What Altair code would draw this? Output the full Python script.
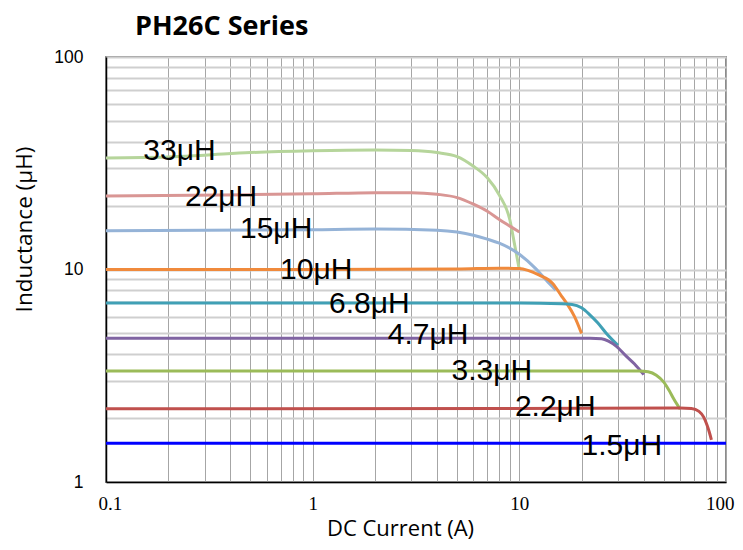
import altair as alt
import pandas as pd

# ---- data ----
series = ["33μH", "22μH", "15μH", "10μH", "6.8μH", "4.7μH", "3.3μH", "2.2μH", "1.5μH"]
colors = ["#b6d59b", "#d99694", "#95b3d7", "#f08a3c", "#40a0b5", "#8064a2", "#9bbb59", "#c0504d", "#0000ff"]

x_33 = [0.1, 0.2, 0.3, 0.5, 1, 2, 3, 4, 5, 6, 7, 8, 9, 9.5, 10]
y_33 = [33.5, 33.8, 34.5, 35.5, 36.2, 36.5, 36.3, 35.5, 34.0, 30.6, 27.0, 22.4, 17.1, 13.0, 10.0]

x_22 = [0.1, 0.5, 1, 2, 3, 4, 5, 6, 7, 8, 9, 10]
y_22 = [22.2, 22.5, 22.7, 23.0, 23.0, 22.6, 21.8, 20.3, 18.8, 17.2, 16.0, 15.0]

x_15 = [0.1, 1, 2, 4, 5, 6, 7, 8, 10, 12, 13.5, 15]
y_15 = [15.2, 15.4, 15.5, 15.3, 15.0, 14.5, 13.9, 13.3, 11.8, 10.1, 8.9, 8.0]

x_10 = [0.1, 1, 5, 8, 10, 11, 12.5, 14.5, 16, 17, 18.5, 20]
y_10 = [10.0, 10.0, 10.05, 10.15, 10.1, 9.9, 9.4, 8.6, 7.5, 6.9, 6.0, 5.0]

x_68 = [0.1, 1, 10, 16, 18, 20, 22, 24, 26.4, 30]
y_68 = [6.95, 6.95, 6.95, 6.9, 6.85, 6.6, 6.1, 5.6, 5.0, 4.4]

x_47 = [0.1, 10, 22, 25, 27, 29.5, 33, 36, 40]
y_47 = [4.75, 4.75, 4.75, 4.72, 4.6, 4.35, 3.9, 3.6, 3.2]

x_33b = [0.1, 10, 38, 42, 46, 50, 53, 56, 60]
y_33b = [3.33, 3.33, 3.33, 3.3, 3.18, 2.95, 2.7, 2.45, 2.2]

x_22b = [0.1, 10, 60, 68, 74, 78, 81, 83, 85]
y_22b = [2.21, 2.22, 2.23, 2.22, 2.15, 2.02, 1.85, 1.72, 1.58]

x_15b = [0.1, 1, 10, 100]
y_15b = [1.52, 1.52, 1.52, 1.52]

label_x = [0.1515, 0.241, 0.445, 0.695, 1.199, 2.31, 4.70, 9.52, 20.0]
label_y = [36.1, 22.0, 15.5, 10.0, 6.88, 4.92, 3.33, 2.25, 1.48]

x_ticks = [0.1, 0.2, 0.3, 0.4, 0.5, 0.6, 0.7, 0.8, 0.9,
           1, 2, 3, 4, 5, 6, 7, 8, 9,
           10, 20, 30, 40, 50, 60, 70, 80, 90, 100]
y_ticks = [1, 2, 3, 4, 5, 6, 7, 8, 9,
           10, 20, 30, 40, 50, 60, 70, 80, 90, 100]

# ---- build tables ----
xs = [x_33, x_22, x_15, x_10, x_68, x_47, x_33b, x_22b, x_15b]
ys = [y_33, y_22, y_15, y_10, y_68, y_47, y_33b, y_22b, y_15b]
rows = []
for name, xv, yv in zip(series, xs, ys):
    for i, (a, b) in enumerate(zip(xv, yv)):
        rows.append({"series": name, "current": a, "L": b, "idx": i})
df = pd.DataFrame(rows)
labels = pd.DataFrame({"label": series, "lx": label_x, "ly": label_y})

decade_expr = ("abs(log(datum.value)/LN10 - round(log(datum.value)/LN10)) < 0.001 "
               "? format(datum.value, '~g') : ''")

xscale = alt.Scale(type="log", domain=[0.1, 100], nice=False)
yscale = alt.Scale(type="log", domain=[1, 100], nice=False)

xaxis = alt.Axis(values=x_ticks, grid=True, gridColor="#a6a6a6", gridWidth=1,
                 ticks=False, domainColor="black", domainWidth=1.5,
                 labelExpr=decade_expr, labelFont="Liberation Serif", labelFontSize=19,
                 labelColor="black", labelPadding=12, labelFlush=True, labelFlushOffset=8,
                 labelOverlap=False,
                 title="DC Current (A)", titleFont="Open Sans", titleFontSize=22,
                 titleFontWeight="normal", titleColor="black",
                 titleX=294, titleY=46, titleAlign="center", titleBaseline="middle")
yaxis = alt.Axis(values=y_ticks, grid=True, gridColor="#cfcfcf", gridWidth=2,
                 ticks=False, domainColor="black", domainWidth=1.5,
                 labelExpr=decade_expr, labelFont="Liberation Sans", labelFontSize=17.5,
                 labelColor="black", labelPadding=23, labelFlush=False, labelOverlap=False,
                 title="Inductance (μH)", titleFont="Open Sans", titleFontSize=22.5,
                 titleFontWeight="normal", titleColor="black",
                 titleX=-82, titleY=172, titleAngle=270, titleAlign="center",
                 titleBaseline="middle")

lines = alt.Chart(df).mark_line(strokeWidth=3, interpolate="monotone", clip=True).encode(
    x=alt.X("current:Q", scale=xscale, axis=xaxis),
    y=alt.Y("L:Q", scale=yscale, axis=yaxis),
    color=alt.Color("series:N", scale=alt.Scale(domain=series, range=colors), legend=None),
    detail="series:N",
    order="idx:Q",
)

texts = alt.Chart(labels).mark_text(align="left", baseline="middle", font="Liberation Sans",
                                    fontSize=30, color="black").encode(
    x=alt.X("lx:Q", scale=xscale),
    y=alt.Y("ly:Q", scale=yscale),
    text="label:N",
)

chart = alt.layer(lines, texts).properties(
    width=620, height=425,
    title=alt.TitleParams("PH26C  Series", anchor="start", frame="group", dx=29, offset=7,
                          font="Open Sans", fontSize=27, fontWeight="bold", color="black"),
    autosize=alt.AutoSizeParams(type="none"),
    padding={"left": 98, "top": 49, "right": 9, "bottom": 60},
).configure_view(stroke="#8c8c8c", strokeWidth=2)

chart.save("out.html", embed_options={"renderer": "svg", "actions": False})
